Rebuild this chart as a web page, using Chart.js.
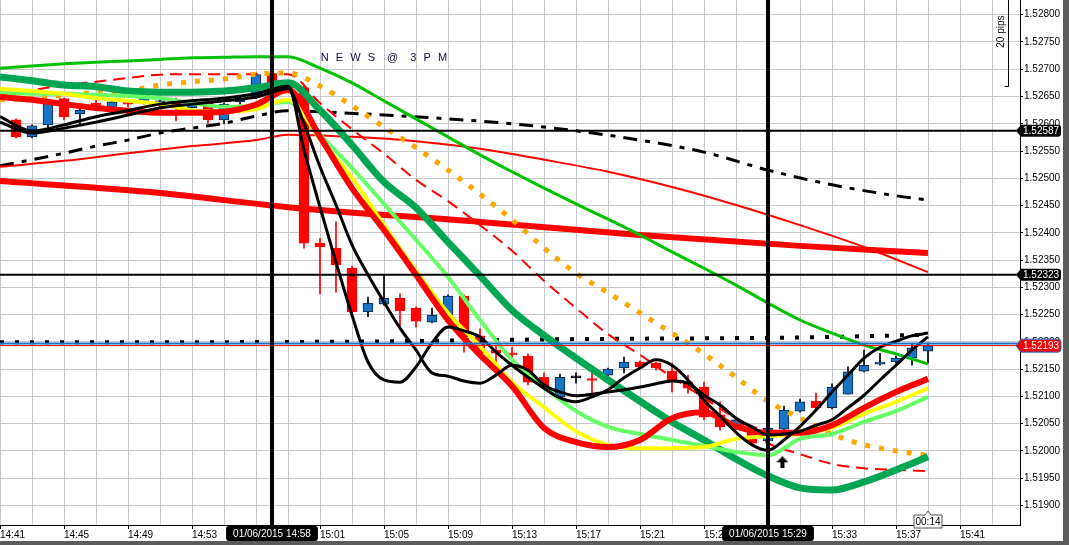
<!DOCTYPE html>
<html>
<head>
<meta charset="utf-8">
<script src="https://cdn.jsdelivr.net/npm/chart.js@4.4.1/dist/chart.umd.min.js"></script>
<style>
  html, body { margin: 0; padding: 0; background: #5b5b5b; }
  #wrap { width: 1063px; height: 541px; background: #fff; }
  canvas { display: block; }
</style>
</head>
<body>
<div id="wrap"><canvas id="chart" width="1063" height="541"></canvas></div>
<script>
const FONT = "'Liberation Sans', Arial, sans-serif";

// x = minutes after 14:41
const X_MIN = 0, X_MAX = 63.75;
const Y_MIN = 1.51864, Y_MAX = 1.52827;

const gridMinutes = [0,2,4,6,8,10,12,14,16,18,20,22,24,26,28,30,32,34,36,38,40,42,44,46,48,50,52,54,56,58,60,62];
const labelMinutes = [0,4,8,12,16,20,24,28,32,36,40,44,48,52,56,60];
const timeLabels = ['14:41','14:45','14:49','14:53','14:57','15:01','15:05','15:09','15:13','15:17','15:21','15:25','15:29','15:33','15:37','15:41'];
const yTicks = [1.519,1.5195,1.52,1.5205,1.521,1.5215,1.522,1.5225,1.523,1.5235,1.524,1.5245,1.525,1.5255,1.526,1.5265,1.527,1.5275,1.528];

// 1-minute candles
const candleMinutes = [1,2,3,4,5,6,7,8,9,10,11,12,13,14,15,16,17,18,19,20,21,22,23,24,25,26,27,28,29,30,31,32,33,34,35,36,37,38,39,40,41,42,43,44,45,46,47,48,49,50,51,52,53,54,55,56,57,58];
const opens  = [1.52607,1.52576,1.52598,1.52646,1.52618,1.52638,1.52625,1.52640,1.52640,1.52636,1.52644,1.52629,1.52640,1.52607,1.52640,1.52649,1.52690,1.52669,1.52666,1.52381,1.52372,1.52335,1.52255,1.52269,1.52280,1.52262,1.52236,1.52247,1.52284,1.52211,1.52185,1.52179,1.52174,1.52135,1.52099,1.52134,1.52131,1.52139,1.52152,1.52163,1.52161,1.52146,1.52126,1.52117,1.52066,1.52044,1.52044,1.52018,1.52040,1.52073,1.52091,1.52079,1.52104,1.52146,1.52159,1.52163,1.52170,1.52183];
const highs  = [1.52609,1.52598,1.52640,1.52647,1.52629,1.52644,1.52644,1.52644,1.52662,1.52647,1.52647,1.52644,1.52642,1.52638,1.52651,1.52693,1.52695,1.52675,1.52670,1.52390,1.52420,1.52339,1.52282,1.52323,1.52288,1.52264,1.52262,1.52286,1.52286,1.52224,1.52192,1.52190,1.52178,1.52143,1.52141,1.52143,1.52148,1.52152,1.52172,1.52165,1.52163,1.52161,1.52139,1.52126,1.52090,1.52060,1.52047,1.52045,1.52082,1.52095,1.52106,1.52123,1.52154,1.52185,1.52179,1.52174,1.52196,1.52198];
const lows   = [1.52574,1.52574,1.52589,1.52607,1.52598,1.52625,1.52622,1.52631,1.52636,1.52631,1.52605,1.52625,1.52601,1.52600,1.52636,1.52646,1.52655,1.52658,1.52372,1.52288,1.52291,1.52251,1.52246,1.52267,1.52229,1.52227,1.52235,1.52246,1.52181,1.52176,1.52154,1.52161,1.52121,1.52112,1.52097,1.52124,1.52099,1.52137,1.52143,1.52152,1.52148,1.52108,1.52106,1.52057,1.52038,1.52040,1.52009,1.52014,1.52034,1.52071,1.52075,1.52077,1.52104,1.52145,1.52157,1.52161,1.52157,1.52161];
const closes = [1.52576,1.52596,1.52638,1.52613,1.52625,1.52634,1.52640,1.52636,1.52657,1.52642,1.52629,1.52638,1.52607,1.52636,1.52647,1.52690,1.52658,1.52662,1.52381,1.52374,1.52341,1.52255,1.52271,1.52280,1.52257,1.52238,1.52249,1.52284,1.52209,1.52179,1.52179,1.52176,1.52126,1.52117,1.52135,1.52134,1.52129,1.52150,1.52163,1.52154,1.52152,1.52130,1.52115,1.52062,1.52044,1.52057,1.52014,1.52042,1.52075,1.52090,1.52079,1.52117,1.52145,1.52157,1.52163,1.52170,1.52189,1.52193];

// moving averages sampled every 2 minutes
const maMinutes = [0,2,4,6,8,10,12,14,16,18,20,22,24,26,28,30,32,34,36,38,40,42,44,46,48,50,52,54,56,58];
const greenThin  = [1.52702,1.52706,1.52710,1.52713,1.52715,1.52718,1.52721,1.52722,1.52723,1.52723,1.52702,1.52675,1.52642,1.52609,1.52576,1.52543,1.52512,1.52482,1.52453,1.52425,1.52396,1.52365,1.52335,1.52304,1.52271,1.52240,1.52216,1.52194,1.52178,1.52159];
const greenThick = [1.52686,1.52679,1.52671,1.52668,1.52660,1.52658,1.52658,1.52660,1.52666,1.52675,1.52625,1.52561,1.52493,1.52446,1.52383,1.52321,1.52258,1.52212,1.52170,1.52130,1.52091,1.52053,1.52020,1.51985,1.51954,1.51932,1.51928,1.51943,1.51965,1.51989];
const redDashed  = [1.52657,1.52662,1.52671,1.52677,1.52684,1.52690,1.52691,1.52691,1.52691,1.52691,1.52638,1.52590,1.52545,1.52497,1.52458,1.52414,1.52367,1.52312,1.52262,1.52214,1.52176,1.52135,1.52097,1.52058,1.52014,1.51994,1.51976,1.51968,1.51965,1.51963];
const orangeDots = [1.52644,1.52647,1.52653,1.52657,1.52660,1.52671,1.52677,1.52682,1.52691,1.52693,1.52669,1.52633,1.52594,1.52556,1.52515,1.52471,1.52424,1.52372,1.52326,1.52290,1.52253,1.52216,1.52178,1.52135,1.52091,1.52060,1.52031,1.52011,1.52000,1.51992];
const redFast    = [1.52649,1.52644,1.52636,1.52629,1.52624,1.52620,1.52620,1.52622,1.52635,1.52662,1.52576,1.52482,1.52405,1.52323,1.52240,1.52176,1.52119,1.52042,1.52016,1.52007,1.52020,1.52060,1.52071,1.52045,1.52033,1.52033,1.52047,1.52079,1.52108,1.52132];
const yellowMa   = [1.52664,1.52660,1.52655,1.52647,1.52642,1.52636,1.52625,1.52622,1.52627,1.52644,1.52572,1.52501,1.52414,1.52330,1.52253,1.52192,1.52126,1.52080,1.52036,1.52011,1.52005,1.52005,1.52007,1.52022,1.52027,1.52031,1.52042,1.52068,1.52090,1.52115];
const lightGreen = [1.52657,1.52655,1.52655,1.52653,1.52651,1.52647,1.52638,1.52631,1.52633,1.52640,1.52580,1.52519,1.52453,1.52387,1.52319,1.52240,1.52167,1.52117,1.52073,1.52044,1.52031,1.52020,1.52009,1.51998,1.51992,1.52022,1.52031,1.52053,1.52073,1.52099];

// the two fast black averages, per minute after the news
const blackMinutes = [0,2,4,6,8,10,12,14,16,18,19,20,21,22,23,24,25,26,27,28,29,30,31,32,33,34,35,36,37,38,39,40,41,42,43,44,45,46,47,48,49,50,51,52,53,54,55,56,57,58];
const blackFast = [1.52613,1.52587,1.52598,1.52613,1.52624,1.52636,1.52642,1.52647,1.52655,1.52669,1.52552,1.52447,1.52346,1.52249,1.52163,1.52130,1.52126,1.52154,1.52198,1.52227,1.52220,1.52209,1.52181,1.52157,1.52135,1.52115,1.52097,1.52090,1.52099,1.52112,1.52134,1.52152,1.52167,1.52157,1.52130,1.52093,1.52064,1.52034,1.52011,1.52001,1.52020,1.52045,1.52075,1.52108,1.52139,1.52170,1.52190,1.52201,1.52211,1.52216];
const blackSlow = [1.52603,1.52583,1.52592,1.52603,1.52616,1.52629,1.52636,1.52642,1.52649,1.52664,1.52600,1.52521,1.52451,1.52378,1.52323,1.52273,1.52225,1.52185,1.52143,1.52137,1.52128,1.52124,1.52139,1.52157,1.52148,1.52121,1.52108,1.52101,1.52104,1.52108,1.52112,1.52117,1.52123,1.52128,1.52124,1.52102,1.52084,1.52060,1.52044,1.52029,1.52031,1.52036,1.52047,1.52057,1.52079,1.52102,1.52130,1.52157,1.52185,1.52209];

const dashDotMinutes = [0,2,4,6,8,10,12,14,16,18,20,24,28,32,36,40,44,48,52,56,58];
const blackDashDot = [1.52523,1.52534,1.52546,1.52559,1.52570,1.52583,1.52592,1.52601,1.52614,1.52624,1.52622,1.52616,1.52609,1.52600,1.52587,1.52570,1.52548,1.52515,1.52488,1.52468,1.52460];

const redThinMinutes = [0,4,8,12,16,18,22,26,30,34,38,42,46,50,54,58];
const redThin = [1.52521,1.52532,1.52546,1.52559,1.52570,1.52580,1.52576,1.52568,1.52554,1.52534,1.52512,1.52484,1.52451,1.52414,1.52374,1.52328];

const redLongMinutes = [0,10,18,30,40,50,58];
const redLong = [1.52495,1.52473,1.52447,1.52420,1.52396,1.52376,1.52363];

const dottedMinutes = [0,20,36,50,58];
const blackDotted = [1.52199,1.52200,1.52205,1.52208,1.52213];

// horizontal levels and markers
const levelBlack = [1.52587, 1.52323];
const bidPrice = 1.52193;
const askPrice = 1.52197;
const markerMinutes = [17, 48];
const markerLabels = ['01/06/2015 14:58', '01/06/2015 15:29'];
const arrowMinute = 48.9, arrowPrice = 1.51979;
const newsLabel = 'N E W S  @  3 P M';
const newsMinute = 20.05, newsPrice = 1.52720;
const pipsBottom = 1.52669, pipsSize = 0.0020;
const countdown = '00:14';

const BLUE = '#1a73c4', RED = '#ff0000';

function pts(xs, ys) { return xs.map((m, i) => ({ x: m, y: ys[i] })); }

function ma(label, xs, ys, color, width, order, extra) {
  return Object.assign({
    type: 'line', label, data: pts(xs, ys),
    borderColor: color, borderWidth: width, order,
    pointRadius: 0, fill: false, cubicInterpolationMode: 'monotone',
    borderCapStyle: 'butt'
  }, extra || {});
}

function hline(label, v, color, width, order) {
  return {
    type: 'line', label, order,
    data: [{ x: X_MIN, y: v }, { x: X_MAX, y: v }],
    borderColor: color, borderWidth: width, pointRadius: 0, tension: 0, fill: false
  };
}

function vline(label, m) {
  return {
    type: 'line', label, order: 0,
    data: [{ x: m, y: Y_MAX }, { x: m, y: Y_MIN }],
    borderColor: '#000', borderWidth: 4, pointRadius: 0, tension: 0, fill: false
  };
}

const dir = candleMinutes.map((m, i) => closes[i] > opens[i] ? 1 : (closes[i] < opens[i] ? -1 : 0));

function makeArrow() {
  const c = document.createElement('canvas');
  c.width = 12; c.height = 12;
  const g = c.getContext('2d');
  g.fillStyle = '#000';
  g.beginPath();
  g.moveTo(6, 0); g.lineTo(12, 6); g.lineTo(8, 6); g.lineTo(8, 12);
  g.lineTo(4, 12); g.lineTo(4, 6); g.lineTo(0, 6); g.closePath();
  g.fill();
  return c;
}

const datasets = [
  vline('14:58', markerMinutes[0]),
  vline('15:29', markerMinutes[1]),
  { type: 'scatter', label: 'arrow', order: 0, data: [{ x: arrowMinute, y: arrowPrice }],
    pointStyle: makeArrow(), pointRadius: 6 },
  hline('level1', levelBlack[0], '#000', 2, 1),
  hline('level2', levelBlack[1], '#000', 2, 1),
  hline('ask', askPrice, '#1a73c4', 2, 1),
  hline('bid', bidPrice, RED, 1, 1),
  ma('blackFast', blackMinutes, blackFast, '#000', 3, 2),
  ma('blackSlow', blackMinutes, blackSlow, '#000', 3, 2),
  ma('redFast', maMinutes, redFast, RED, 6, 3),
  ma('yellow', maMinutes, yellowMa, '#ffff00', 4, 4),
  ma('lightGreen', maMinutes, lightGreen, '#66ff66', 4, 5),
  ma('greenThick', maMinutes, greenThick, '#00a651', 7, 6),
  ma('orange', maMinutes, orangeDots, '#ffa500', 5, 7, { borderDash: [5, 9] }),
  ma('redDashed', maMinutes, redDashed, RED, 2, 8, { borderDash: [12, 7] }),
  ma('greenThin', maMinutes, greenThin, '#00c000', 3, 9),
  ma('redThin', redThinMinutes, redThin, RED, 2, 10),
  ma('redLong', redLongMinutes, redLong, RED, 6, 11),
  ma('dashDot', dashDotMinutes, blackDashDot, '#000', 3, 12, { borderDash: [14, 8, 5, 8] }),
  ma('dotted', dottedMinutes, blackDotted, '#000', 4, 13, { borderDash: [4, 11] }),
  {
    type: 'bar', label: 'body', order: 20, grouped: false,
    data: candleMinutes.map((m, i) => ({ x: m, y: [opens[i], closes[i]] })),
    backgroundColor: dir.map(d => d > 0 ? BLUE : (d < 0 ? RED : '#000')),
    borderColor: dir.map(d => d > 0 ? '#0b2545' : (d < 0 ? RED : '#000')),
    borderWidth: 1, borderSkipped: false, barThickness: 10, minBarLength: 2
  },
  {
    type: 'bar', label: 'wick', order: 21, grouped: false,
    data: candleMinutes.map((m, i) => ({ x: m, y: [lows[i], highs[i]] })),
    backgroundColor: dir.map(d => d < 0 ? RED : '#000'),
    borderWidth: 0, barThickness: 1
  }
];

function tag(ctx, left, yPx, w, h, text, bg, fg, outline) {
  ctx.save();
  ctx.beginPath();
  ctx.moveTo(left - 4, yPx);
  ctx.lineTo(left + 1, yPx - h / 2);
  ctx.lineTo(left + w - 3, yPx - h / 2);
  ctx.quadraticCurveTo(left + w, yPx - h / 2, left + w, yPx - h / 2 + 3);
  ctx.lineTo(left + w, yPx + h / 2 - 3);
  ctx.quadraticCurveTo(left + w, yPx + h / 2, left + w - 3, yPx + h / 2);
  ctx.lineTo(left + 1, yPx + h / 2);
  ctx.closePath();
  ctx.fillStyle = bg;
  ctx.fill();
  if (outline) { ctx.strokeStyle = outline; ctx.lineWidth = 1; ctx.stroke(); }
  ctx.fillStyle = fg;
  ctx.font = '10px ' + FONT;
  ctx.textAlign = 'left';
  ctx.textBaseline = 'middle';
  ctx.fillText(text, left + 3, yPx + 0.5);
  ctx.restore();
}

const overlays = {
  id: 'overlays',
  afterDraw(chart) {
    const { ctx, chartArea } = chart;
    const x = chart.scales.x, y = chart.scales.y;

    // news caption
    ctx.save();
    ctx.font = '11px ' + FONT;
    ctx.fillStyle = '#0a0a3a';
    ctx.textAlign = 'left';
    ctx.textBaseline = 'middle';
    if ('letterSpacing' in ctx) ctx.letterSpacing = '2px';
    ctx.fillText(newsLabel, x.getPixelForValue(newsMinute), y.getPixelForValue(newsPrice));
    ctx.restore();

    // 20 pips bracket
    const bx = chartArea.right - 11.5;
    const yb = Math.round(y.getPixelForValue(pipsBottom)) + 0.5;
    const yt = y.getPixelForValue(pipsBottom + pipsSize);
    ctx.save();
    ctx.strokeStyle = '#000';
    ctx.lineWidth = 1;
    ctx.beginPath();
    ctx.moveTo(bx, yt); ctx.lineTo(bx, yb); ctx.lineTo(bx - 4, yb);
    ctx.stroke();
    ctx.translate(bx - 7, y.getPixelForValue(pipsBottom + pipsSize * 0.5));
    ctx.rotate(-Math.PI / 2);
    ctx.font = '10px ' + FONT;
    ctx.fillStyle = '#000';
    ctx.textAlign = 'center';
    ctx.textBaseline = 'middle';
    ctx.fillText('20 pips', 0, 0);
    ctx.restore();

    // price tags on the right axis
    const axisX = chartArea.right;
    levelBlack.forEach(v => tag(ctx, axisX, y.getPixelForValue(v), 41, 12, v.toFixed(5), '#000', '#fff'));
    tag(ctx, axisX, y.getPixelForValue(bidPrice), 41, 13, bidPrice.toFixed(5), RED, '#fff', '#1a73c4');

    // date labels under the vertical lines
    ctx.save();
    ctx.font = '10px ' + FONT;
    ctx.textAlign = 'center';
    ctx.textBaseline = 'middle';
    markerMinutes.forEach((m, i) => {
      const cx = x.getPixelForValue(m);
      const w = ctx.measureText(markerLabels[i]).width + 14;
      ctx.fillStyle = '#000';
      ctx.beginPath();
      ctx.roundRect(cx - w / 2, chartArea.bottom + 1, w, 15, 3);
      ctx.fill();
      ctx.fillStyle = '#fff';
      ctx.fillText(markerLabels[i], cx, chartArea.bottom + 9);
    });

    // countdown box at the last candle
    const lx = x.getPixelForValue(candleMinutes[candleMinutes.length - 1]);
    const bw = 28, top = chartArea.bottom - 10;
    ctx.beginPath();
    ctx.moveTo(lx - bw / 2, top);
    ctx.lineTo(lx - 3, top);
    ctx.lineTo(lx, top - 4);
    ctx.lineTo(lx + 3, top);
    ctx.lineTo(lx + bw / 2, top);
    ctx.lineTo(lx + bw / 2, top + 13);
    ctx.lineTo(lx - bw / 2, top + 13);
    ctx.closePath();
    ctx.fillStyle = '#fff';
    ctx.fill();
    ctx.strokeStyle = '#555';
    ctx.lineWidth = 1;
    ctx.stroke();
    ctx.fillStyle = '#000';
    ctx.fillText(countdown, lx, top + 7);
    ctx.restore();
  }
};

new Chart(document.getElementById('chart'), {
  type: 'bar',
  data: { datasets },
  options: {
    responsive: false,
    animation: false,
    devicePixelRatio: 1,
    events: [],
    layout: { padding: 0, autoPadding: false },
    plugins: { legend: { display: false }, tooltip: { enabled: false } },
    scales: {
      x: {
        type: 'linear', min: X_MIN, max: X_MAX, offset: false,
        afterBuildTicks: s => { s.ticks = gridMinutes.map(v => ({ value: v })); },
        afterFit: s => { s.height = 16; s.paddingLeft = 0; s.paddingRight = 0; },
        grid: {
          offset: false, color: '#c8c8c8', lineWidth: 1, tickLength: 4,
          tickColor: c => labelMinutes.includes(c.tick && c.tick.value) ? '#000' : 'rgba(0,0,0,0)'
        },
        border: { color: '#000', width: 1 },
        ticks: {
          align: 'start', padding: 0, maxRotation: 0, autoSkip: false,
          color: '#000', font: { family: FONT, size: 10 },
          callback: v => { const i = labelMinutes.indexOf(v); return i >= 0 ? timeLabels[i] : ''; }
        }
      },
      y: {
        type: 'linear', position: 'right', min: Y_MIN, max: Y_MAX,
        afterBuildTicks: s => { s.ticks = yTicks.map(v => ({ value: v })); },
        afterFit: s => { s.width = 43; s.paddingTop = 0; s.paddingBottom = 0; },
        grid: { color: '#c8c8c8', lineWidth: 1, tickLength: 3, tickColor: '#000' },
        border: { color: '#000', width: 1 },
        ticks: { color: '#000', padding: 1, font: { family: FONT, size: 10 }, callback: v => v.toFixed(5) }
      }
    }
  },
  plugins: [overlays]
});
</script>
</body>
</html>
